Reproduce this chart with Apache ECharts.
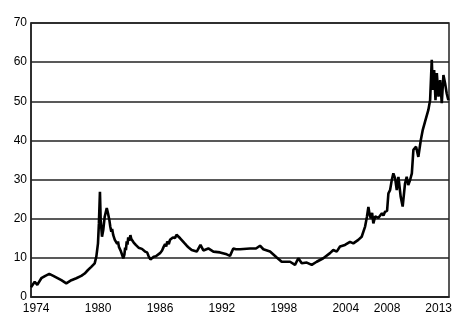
<!DOCTYPE html>
<html>
<head>
<meta charset="utf-8">
<script src="https://cdn.jsdelivr.net/npm/echarts@6/dist/echarts.min.js"></script>
<style>
  html, body { margin: 0; padding: 0; background: #fff; }
  #chart { width: 474px; height: 331px; }
</style>
</head>
<body>
<div id="chart"></div>
<script>
// time (decimal year) and value
var years = [
  1973.50, 1973.86, 1974.11, 1974.50, 1974.69, 1974.89, 1975.08, 1975.27, 1975.66, 1976.44,
  1976.92, 1977.41, 1977.89, 1978.37, 1978.70, 1979.02, 1979.34, 1979.67, 1979.83, 1979.99,
  1980.08, 1980.18, 1980.25, 1980.38, 1980.50, 1980.64, 1980.84, 1980.96, 1981.09, 1981.18,
  1981.28, 1981.36, 1981.47, 1981.55, 1981.62, 1981.74, 1981.85, 1981.93, 1982.02, 1982.12,
  1982.22, 1982.30, 1982.44, 1982.55, 1982.62, 1982.70, 1982.77, 1982.85, 1982.92, 1983.02,
  1983.13, 1983.22, 1983.30, 1983.45, 1983.55, 1983.65, 1983.78, 1983.92, 1984.10, 1984.25,
  1984.42, 1984.55, 1984.75, 1984.90, 1985.07, 1985.39, 1985.60, 1986.00, 1986.20, 1986.35,
  1986.49, 1986.60, 1986.70, 1986.85, 1986.97, 1987.10, 1987.25, 1987.46, 1987.60, 1987.78,
  1987.95, 1988.11, 1988.35, 1988.59, 1988.80, 1989.07, 1989.56, 1989.92, 1990.20, 1990.68,
  1991.17, 1991.81, 1992.46, 1992.78, 1993.10, 1993.36, 1993.75, 1994.72, 1995.30, 1995.69,
  1996.01, 1996.66, 1997.31, 1997.79, 1998.60, 1999.08, 1999.40, 1999.73, 2000.22, 2000.70,
  2001.18, 2001.82, 2002.47, 2002.79, 2003.12, 2003.44, 2003.92, 2004.41, 2004.73, 2005.21,
  2005.54, 2005.87, 2006.05, 2006.19, 2006.30, 2006.42, 2006.55, 2006.67, 2006.85, 2007.00,
  2007.15, 2007.32, 2007.50, 2007.65, 2007.80, 2008.00, 2008.13, 2008.29, 2008.45, 2008.61,
  2008.78, 2008.94, 2009.10, 2009.32, 2009.51, 2009.74, 2009.90, 2010.05, 2010.23, 2010.40,
  2010.55, 2010.81, 2011.03, 2011.27, 2011.46, 2011.68, 2011.84, 2012.00, 2012.17, 2012.33,
  2012.43, 2012.56, 2012.69, 2012.82, 2012.98, 2013.14, 2013.30, 2013.46, 2013.62, 2013.78,
  2013.94
]
var values = [
  2.5, 3.9, 3.1, 4.8, 4.3, 5.4, 5.0, 5.9, 5.4, 4.3,
  3.5, 4.3, 4.8, 5.4, 6.0, 6.9, 7.7, 8.6, 10.3, 13.7,
  18.8, 26.9, 19.7, 15.4, 17.1, 20.5, 22.7, 21.4, 19.7, 18.0,
  16.7, 17.4, 15.8, 16.3, 14.6, 14.9, 13.6, 14.2, 12.8, 13.3,
  11.6, 11.9, 9.9, 10.8, 12.6, 12.0, 14.2, 13.4, 15.2, 14.4,
  15.8, 14.8, 15.3, 13.9, 14.4, 13.3, 13.6, 12.6, 13.0, 12.3,
  12.4, 11.6, 11.4, 10.4, 9.6, 10.3, 10.4, 11.2, 11.9, 12.8,
  13.5, 12.9, 14.2, 13.5, 14.6, 14.3, 15.2, 15.1, 15.9, 15.4,
  15.0, 14.5, 13.8, 13.1, 12.6, 12.0, 11.6, 13.3, 11.9, 12.4,
  11.6, 11.4, 10.9, 10.5, 12.4, 12.2, 12.2, 12.4, 12.4, 13.1,
  12.2, 11.6, 10.1, 9.0, 9.0, 8.2, 9.9, 8.6, 8.8, 8.2,
  9.0, 9.9, 11.2, 12.0, 11.6, 12.9, 13.3, 14.1, 13.7, 14.6,
  15.4, 18.0, 20.5, 23.0, 21.2, 20.1, 21.5, 18.8, 20.6, 21.0,
  20.2, 20.7, 21.4, 20.8, 21.8, 22.0, 26.5, 27.3, 29.8, 31.6,
  30.3, 27.3, 30.7, 25.6, 23.1, 29.0, 30.7, 28.6, 29.9, 31.6,
  37.6, 38.4, 35.8, 40.1, 42.7, 44.8, 44.4, 47.8, 50.3, 60.6,
  52.9, 58.0, 50.3, 57.2, 51.2, 55.4, 49.5, 56.7, 54.6, 52.0,
  50.3
]
var yearLabels = [1974, 1980, 1986, 1992, 1998, 2004, 2008, 2013]
var valueTicks = [0, 10, 20, 30, 40, 50, 60, 70]

var chart = echarts.init(document.getElementById('chart'))

var points = years.map(function (y, i) {
  return [y, values[i]]
})

chart.setOption({
  animation: false,
  grid: {
    left: 31,
    right: 25,
    top: 23,
    bottom: 34,
    show: true,
    borderColor: '#222',
    borderWidth: 1.5
  },
  xAxis: {
    type: 'value',
    min: 1973.5,
    max: 2014,
    axisLine: { show: true, lineStyle: { color: '#222', width: 1.5 } },
    axisTick: { show: false },
    splitLine: { show: false },
    axisLabel: {
      customValues: yearLabels,
      color: '#000',
      fontSize: 12,
      fontFamily: 'Liberation Sans, Arial, sans-serif',
      margin: 6,
      formatter: function (v) { return String(Math.round(v)) }
    }
  },
  yAxis: {
    type: 'value',
    min: valueTicks[0],
    max: valueTicks[valueTicks.length - 1],
    interval: 10,
    axisLine: { show: true, lineStyle: { color: '#222', width: 1.5 } },
    axisTick: { show: false },
    splitLine: { show: true, lineStyle: { color: '#222', width: 1.5 } },
    axisLabel: {
      color: '#000',
      fontSize: 12,
      fontFamily: 'Liberation Sans, Arial, sans-serif',
      margin: 4
    }
  },
  series: [{
    type: 'line',
    data: points,
    showSymbol: false,
    lineStyle: { color: '#000', width: 2.6 },
    z: 5
  }]
})
</script>
</body>
</html>
